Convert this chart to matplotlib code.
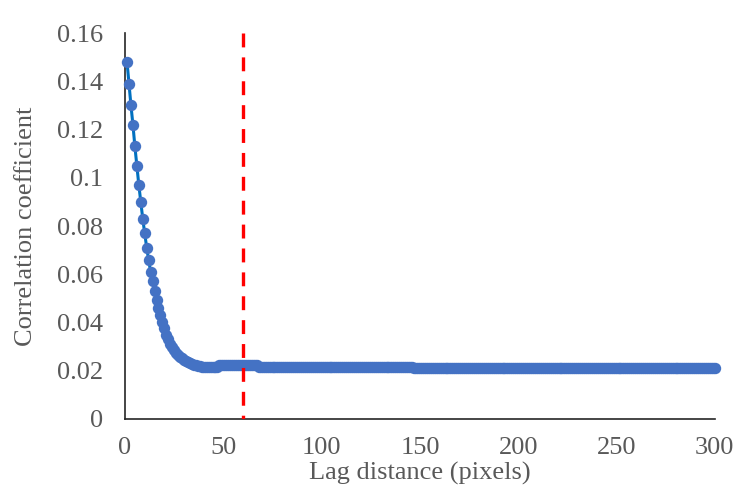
import matplotlib
matplotlib.use("Agg")
import matplotlib.pyplot as plt
from matplotlib.ticker import FuncFormatter

# ---- data ----
lags = list(range(1, 301))
correlation = [
    0.148, 0.139, 0.130, 0.122, 0.113, 0.105, 0.097, 0.090, 0.083, 0.077,
    0.071, 0.066, 0.061, 0.057, 0.053, 0.0495, 0.046, 0.043, 0.040, 0.0375,
    0.035, 0.033, 0.031, 0.0297, 0.0285, 0.0275, 0.0266, 0.0258, 0.0251, 0.0245,
    0.0240, 0.0235, 0.0231, 0.0228, 0.0225, 0.0222, 0.0220, 0.0218, 0.0217, 0.0216,
    0.0215, 0.0215, 0.0215, 0.0215, 0.0215, 0.0215, 0.0215, 0.0222, 0.0222, 0.0222,
    0.0222, 0.0222, 0.0222, 0.0222, 0.0222, 0.0222, 0.0222, 0.0222, 0.0222, 0.0222,
    0.0222, 0.0222, 0.0222, 0.0222, 0.0222, 0.0222, 0.0222, 0.0217, 0.0217, 0.0217,
    0.0217, 0.0217, 0.0217, 0.0217, 0.0217, 0.0217, 0.0217, 0.0217, 0.0217, 0.0217,
    0.0217, 0.0217, 0.0217, 0.0217, 0.0217, 0.0217, 0.0217, 0.0217, 0.0217, 0.0217,
    0.0217, 0.0217, 0.0217, 0.0217, 0.0217, 0.0217, 0.0217, 0.0217, 0.0217, 0.0217,
    0.0217, 0.0217, 0.0217, 0.0217, 0.0217, 0.0217, 0.0217, 0.0217, 0.0217, 0.0217,
    0.0217, 0.0217, 0.0217, 0.0217, 0.0217, 0.0217, 0.0217, 0.0217, 0.0217, 0.0217,
    0.0217, 0.0217, 0.0217, 0.0217, 0.0217, 0.0217, 0.0217, 0.0217, 0.0217, 0.0217,
    0.0217, 0.0217, 0.0217, 0.0217, 0.0217, 0.0217, 0.0217, 0.0217, 0.0217, 0.0217,
    0.0217, 0.0217, 0.0217, 0.0217, 0.0217, 0.0217, 0.0210, 0.0210, 0.0210, 0.0210,
    0.0210, 0.0210, 0.0210, 0.0210, 0.0210, 0.0210, 0.0210, 0.0210, 0.0210, 0.0210,
    0.0210, 0.0210, 0.0210, 0.0210, 0.0210, 0.0210, 0.0210, 0.0210, 0.0210, 0.0210,
    0.0210, 0.0210, 0.0210, 0.0210, 0.0210, 0.0210, 0.0210, 0.0210, 0.0210, 0.0210,
    0.0210, 0.0210, 0.0210, 0.0210, 0.0210, 0.0210, 0.0210, 0.0210, 0.0210, 0.0210,
    0.0210, 0.0210, 0.0210, 0.0210, 0.0210, 0.0210, 0.0210, 0.0210, 0.0210, 0.0210,
    0.0210, 0.0210, 0.0210, 0.0210, 0.0210, 0.0210, 0.0210, 0.0210, 0.0210, 0.0210,
    0.0210, 0.0210, 0.0210, 0.0210, 0.0210, 0.0210, 0.0210, 0.0210, 0.0210, 0.0210,
    0.0210, 0.0210, 0.0210, 0.0210, 0.0210, 0.0210, 0.0210, 0.0210, 0.0210, 0.0210,
    0.0210, 0.0210, 0.0210, 0.0210, 0.0210, 0.0210, 0.0210, 0.0210, 0.0210, 0.0210,
    0.0210, 0.0210, 0.0210, 0.0210, 0.0210, 0.0210, 0.0210, 0.0210, 0.0210, 0.0210,
    0.0210, 0.0210, 0.0210, 0.0210, 0.0210, 0.0210, 0.0210, 0.0210, 0.0210, 0.0210,
    0.0210, 0.0210, 0.0210, 0.0210, 0.0210, 0.0210, 0.0210, 0.0210, 0.0210, 0.0210,
    0.0210, 0.0210, 0.0210, 0.0210, 0.0210, 0.0210, 0.0210, 0.0210, 0.0210, 0.0210,
    0.0210, 0.0210, 0.0210, 0.0210, 0.0210, 0.0210, 0.0210, 0.0210, 0.0210, 0.0210,
    0.0210, 0.0210, 0.0210, 0.0210, 0.0210, 0.0210, 0.0210, 0.0210, 0.0210, 0.0210,
]
threshold_lag = 60
x_ticks = [0, 50, 100, 150, 200, 250, 300]
y_ticks = [0, 0.02, 0.04, 0.06, 0.08, 0.1, 0.12, 0.14, 0.16]
x_label = "Lag distance (pixels)"
y_label = "Correlation coefficient"

assert len(lags) == len(correlation)

# ---- style ----
plt.rcParams["font.family"] = ["Liberation Serif", "DejaVu Serif"]
plt.rcParams["lines.scale_dashes"] = False
text_col = "#595959"

fig = plt.figure(figsize=(7.4, 4.94), dpi=100)
ax = fig.add_axes([0.169, 0.152, 0.797, 0.781])

ax.plot(lags, correlation, color="#0070C0", lw=2.2, marker="o",
        markersize=8.2, markerfacecolor="#4472C4", markeredgecolor="#4472C4",
        markeredgewidth=0, clip_on=False, zorder=3)

ax.plot([threshold_lag, threshold_lag], [y_ticks[-1], y_ticks[0]],
        color="#FF0000", lw=2.4, dashes=(10, 7.2), zorder=4)

ax.set_xlim(x_ticks[0], x_ticks[-1])
ax.set_ylim(y_ticks[0], y_ticks[-1])
ax.set_xticks(x_ticks)
ax.set_yticks(y_ticks)
ax.yaxis.set_major_formatter(FuncFormatter(lambda v, p: f"{v:g}"))

for s in ["top", "right"]:
    ax.spines[s].set_visible(False)
for s in ["left", "bottom"]:
    ax.spines[s].set_color("#262626")
    ax.spines[s].set_linewidth(1.2)

ax.tick_params(axis="both", length=0, labelsize=19, colors=text_col)
ax.tick_params(axis="y", pad=16)
ax.tick_params(axis="x", pad=13)

ax.set_xlabel(x_label, fontsize=19, color=text_col, labelpad=2)
ax.set_ylabel(y_label, fontsize=19, color=text_col, labelpad=14)

fig.savefig("out.png", dpi=100)
